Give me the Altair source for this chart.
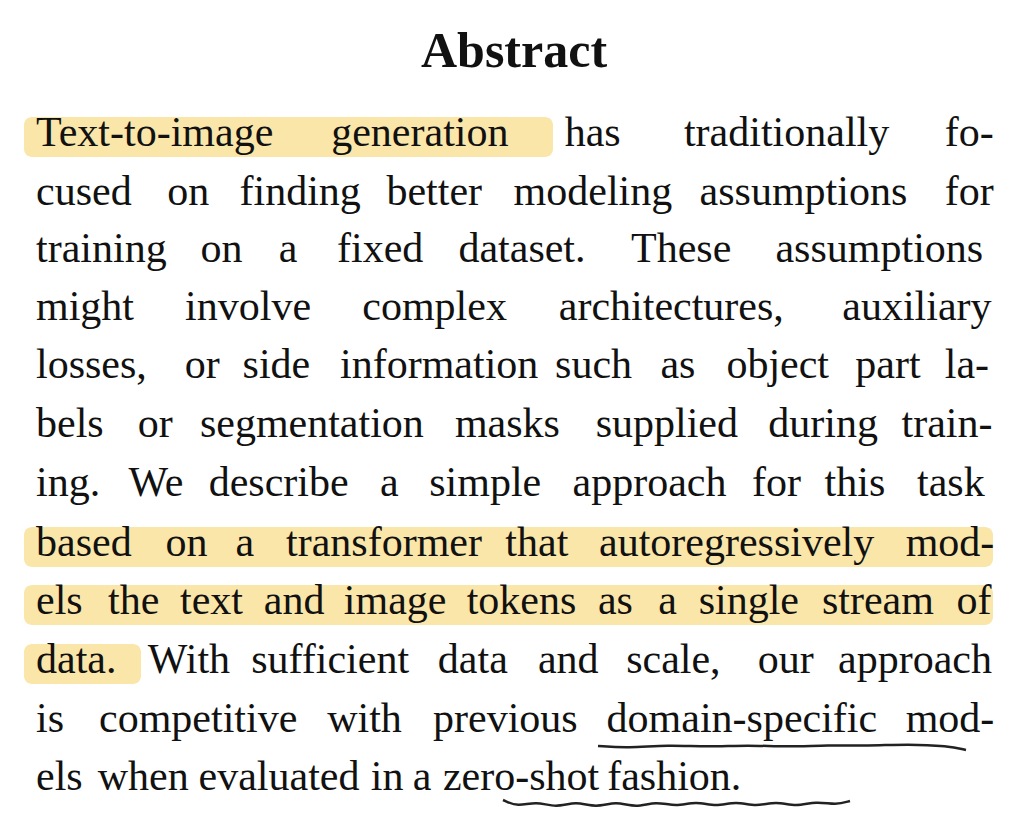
import altair as alt
import pandas as pd

title = "Abstract"
lines = [
    "Text-to-image generation has traditionally fo-",
    "cused on finding better modeling assumptions for",
    "training on a fixed dataset.  These assumptions",
    "might involve complex architectures, auxiliary",
    "losses, or side information such as object part la-",
    "bels or segmentation masks supplied during train-",
    "ing. We describe a simple approach for this task",
    "based on a transformer that autoregressively mod-",
    "els the text and image tokens as a single stream of",
    "data. With sufficient data and scale, our approach",
    "is competitive with previous domain-specific mod-",
    "els when evaluated in a zero-shot fashion.",
]
line_y = [130, 189, 246, 304, 362, 421, 480, 540, 598, 657, 716, 774]

# highlighted spans: line index, start, end
hl_line = [0, 7, 8, 9]
hl_x0 = [16, 16, 16, 16]
hl_x1 = [545, 985, 985, 133]

# hand-drawn underlines
u1_x = [590, 620, 660, 700, 740, 780, 820, 860, 900, 940, 958]
u1_y = [738, 740, 737, 739, 737, 739, 737, 738, 736, 738, 742]
u2_x = [495, 510, 528, 548, 568, 588, 608, 628, 648, 668, 688, 708, 728, 748, 768, 788, 808, 828, 842]
u2_y = [792, 799, 793, 800, 793, 800, 793, 800, 793, 799, 793, 799, 793, 799, 793, 799, 793, 797, 793]

FS = 42
LEFT, RIGHT = 28, 980


def cw(c):
    if c in "iljtfr,.-:;I":
        return 0.28
    if c in "mwMW":
        return 0.74
    if c.isupper():
        return 0.64
    return 0.47


rows = []
for i, (ln, y) in enumerate(zip(lines, line_y)):
    words = ln.split()
    widths = [sum(cw(c) for c in w) * FS for w in words]
    if i < len(lines) - 1 and len(words) > 1:
        gap = (RIGHT - LEFT - sum(widths)) / (len(words) - 1)
    else:
        gap = 0.25 * FS
    x = LEFT
    for w, wd in zip(words, widths):
        rows.append({"word": w, "x": x, "y": y - 5})
        x += wd + gap
words_df = pd.DataFrame(rows)

xs = alt.Scale(domain=[0, 1013])
ys = alt.Scale(domain=[0, 813], reverse=True)
X = lambda f: alt.X(f, scale=xs, axis=None)
Y = lambda f: alt.Y(f, scale=ys, axis=None)

hl_df = pd.DataFrame({
    "x0": hl_x0, "x1": hl_x1,
    "y0": [line_y[i] - 21 for i in hl_line],
    "y1": [line_y[i] + 19 for i in hl_line],
})
hl = alt.Chart(hl_df).mark_rect(color="#fbe3a0", cornerRadius=8, opacity=0.9).encode(
    x=X("x0:Q"), x2="x1:Q", y=Y("y0:Q"), y2="y1:Q")

txt = alt.Chart(words_df).mark_text(
    align="left", baseline="middle", font="Liberation Serif", fontSize=FS, color="#111"
).encode(x=X("x:Q"), y=Y("y:Q"), text="word:N")

head = alt.Chart(pd.DataFrame({"t": [title], "x": [506], "y": [44]})).mark_text(
    font="Liberation Serif", fontSize=50, fontWeight="bold", color="#111"
).encode(x=X("x:Q"), y=Y("y:Q"), text="t:N")

und = pd.DataFrame({"x": u1_x + u2_x, "y": u1_y + u2_y,
                    "g": ["a"] * len(u1_x) + ["b"] * len(u2_x),
                    "o": list(range(len(u1_x))) + list(range(len(u2_x)))})
ul = alt.Chart(und).mark_line(color="#222", strokeWidth=2.5, interpolate="basis").encode(
    x=X("x:Q"), y=Y("y:Q"), detail="g:N", order="o:Q")

chart = alt.layer(hl, txt, head, ul).properties(
    width=1013, height=813,
    autosize=alt.AutoSizeParams(type="fit", contains="padding"), padding=0
).configure_view(stroke=None)

chart.save("out.html", embed_options={"renderer": "svg", "actions": False})
